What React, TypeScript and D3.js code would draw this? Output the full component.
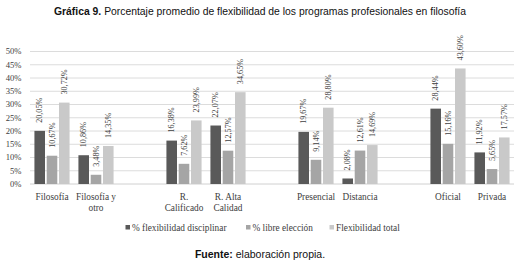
import React from "react";
import * as d3 from "d3";

const categories: string[][] = [
  ["Filosofía"],
  ["Filosofía y", "otro"],
  [],
  ["R.", "Calificado"],
  ["R. Alta", "Calidad"],
  [],
  ["Presencial"],
  ["Distancia"],
  [],
  ["Oficial"],
  ["Privada"],
];
const disciplinar: (number | null)[] = [20.05, 10.86, null, 16.38, 22.07, null, 19.67, 2.08, null, 28.44, 11.92];
const libre: (number | null)[] = [10.67, 3.48, null, 7.62, 12.57, null, 9.14, 12.61, null, 15.16, 5.65];
const total: (number | null)[] = [30.72, 14.35, null, 23.99, 34.65, null, 28.8, 14.69, null, 43.6, 17.57];
const seriesNames = ["% flexibilidad disciplinar", "% libre elección", "Flexibilidad total"];
const seriesColors = ["#595959", "#a5a5a5", "#c9c9c9"];
const yTicks = [0, 5, 10, 15, 20, 25, 30, 35, 40, 45, 50];

const W = 516;
const H = 265;
const serif = "'Liberation Serif', 'Times New Roman', serif";
const sans = "'Liberation Sans', Arial, sans-serif";
const narrow = "'Liberation Sans Narrow', 'Arial Narrow', 'Liberation Sans', sans-serif";

export default function App() {
  const series = [disciplinar, libre, total];
  const x = d3
    .scaleBand<number>()
    .domain(d3.range(categories.length))
    .range([30, 514])
    .paddingInner(0)
    .paddingOuter(0);
  const xs = d3
    .scaleBand<number>()
    .domain([0, 1, 2])
    .range([0, x.bandwidth()])
    .paddingInner(0.14)
    .paddingOuter(0.36);
  const y = d3.scaleLinear().domain([0, 50]).range([184, 51.5]);
  const fmt = (v: number) => v.toFixed(2).replace(".", ",") + "%";

  const legendX = [125.5, 246, 329.5];

  return (
    <svg width={W} height={H} style={{ position: "absolute", left: 0, top: 0, background: "#fff" }}>
      <text x={260} y={14.5} textAnchor="middle" fontFamily={narrow} fontSize={11.5} fill="#111" textLength={412} lengthAdjust="spacingAndGlyphs">
        <tspan fontWeight="bold">Gráfica 9.</tspan>
        <tspan> Porcentaje promedio de flexibilidad de los programas profesionales en filosofía</tspan>
      </text>

      {yTicks.map((t) => (
        <g key={t}>
          <line x1={30} x2={514} y1={y(t)} y2={y(t)} stroke={t === 0 ? "#d0d0d0" : "#dcdcdc"} strokeWidth={1} />
          <text x={21.5} y={y(t)} dy="0.33em" textAnchor="end" fontFamily={serif} fontSize={8.6} fill="#404040">
            {t}%
          </text>
        </g>
      ))}

      {series.map((s, si) =>
        s.map((v, ci) =>
          v == null ? null : (
            <g key={`${si}-${ci}`}>
              <rect
                x={(x(ci) as number) + (xs(si) as number)}
                y={y(v)}
                width={xs.bandwidth()}
                height={y(0) - y(v)}
                fill={seriesColors[si]}
              />
              <text
                transform={`translate(${(x(ci) as number) + (xs(si) as number) + xs.bandwidth() / 2},${y(v) - 8}) rotate(-90)`}
                dy="0.33em"
                textAnchor="start"
                fontFamily={serif}
                fontSize={8.2}
                fill="#404040"
              >
                {fmt(v)}
              </text>
            </g>
          )
        )
      )}

      {categories.map((lines, ci) =>
        lines.map((ln, li) => (
          <text
            key={`${ci}-${li}`}
            x={(x(ci) as number) + x.bandwidth() / 2}
            y={199.5 + li * 11.5}
            textAnchor="middle"
            fontFamily={serif}
            fontSize={9.3}
            fill="#404040"
          >
            {ln}
          </text>
        ))
      )}

      {seriesNames.map((n, i) => (
        <g key={n}>
          <rect x={legendX[i]} y={225} width={4.5} height={4.5} fill={seriesColors[i]} />
          <text x={legendX[i] + 6.5} y={228.3} dy="0.33em" fontFamily={serif} fontSize={9.3} fill="#404040">
            {n}
          </text>
        </g>
      ))}

      <text x={260} y={258} textAnchor="middle" fontFamily={sans} fontSize={10.5} fill="#111">
        <tspan fontWeight="bold">Fuente:</tspan>
        <tspan> elaboración propia.</tspan>
      </text>
    </svg>
  );
}
